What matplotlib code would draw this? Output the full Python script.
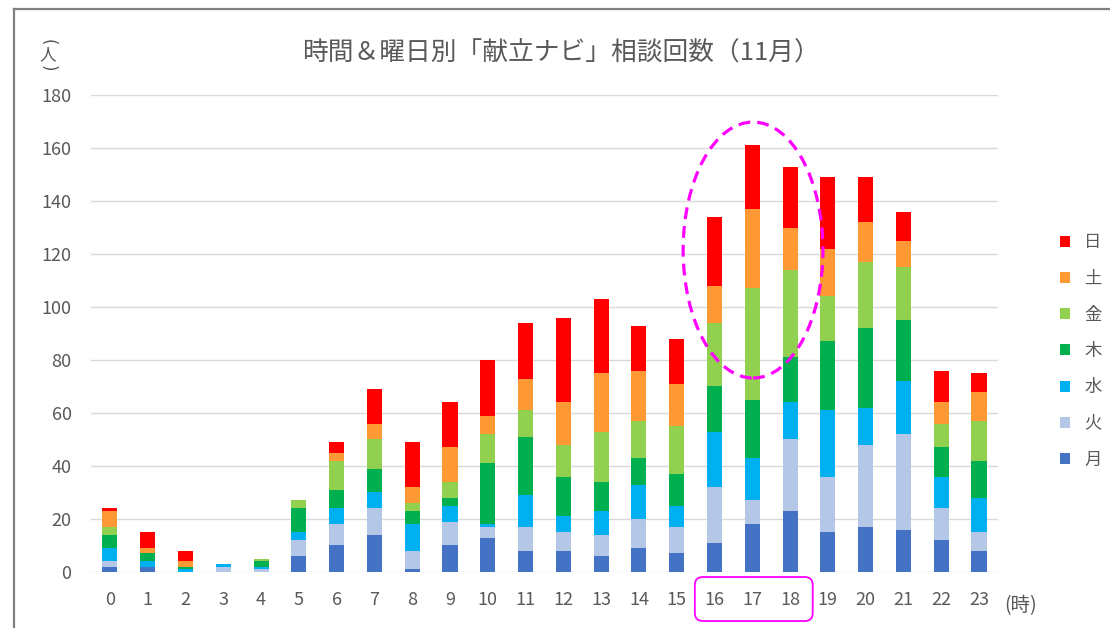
import matplotlib
matplotlib.use("Agg")
import matplotlib.pyplot as plt
import numpy as np
from matplotlib.patches import Ellipse, FancyBboxPatch
from matplotlib.lines import Line2D
from matplotlib.transforms import IdentityTransform

plt.rcParams['font.family'] = ['Noto Sans CJK JP', 'DejaVu Sans']

hours = list(range(24))
days = ["月", "火", "水", "木", "金", "土", "日"]
mon = [2, 2, 0, 0, 0, 6, 10, 14, 1, 10, 13, 8, 8, 6, 9, 7, 11, 18, 23, 15, 17, 16, 12, 8]
tue = [2, 0, 0, 2, 1, 6, 8, 10, 7, 9, 4, 9, 7, 8, 11, 10, 21, 9, 27, 21, 31, 36, 12, 7]
wed = [5, 2, 1, 1, 1, 3, 6, 6, 10, 6, 1, 12, 6, 9, 13, 8, 21, 16, 14, 25, 14, 20, 12, 13]
thu = [5, 3, 1, 0, 2, 9, 7, 9, 5, 3, 23, 22, 15, 11, 10, 12, 17, 22, 17, 26, 30, 23, 11, 14]
fri = [3, 0, 0, 0, 1, 3, 11, 11, 3, 6, 11, 10, 12, 19, 14, 18, 24, 42, 33, 17, 25, 20, 9, 15]
sat = [6, 2, 2, 0, 0, 0, 3, 6, 6, 13, 7, 12, 16, 22, 19, 16, 14, 30, 16, 18, 15, 10, 8, 11]
sun = [1, 6, 4, 0, 0, 0, 4, 13, 17, 17, 21, 21, 32, 28, 17, 17, 26, 24, 23, 27, 17, 11, 12, 7]
series = [mon, tue, wed, thu, fri, sat, sun]
colors = ["#4472C4", "#B4C7E7", "#00B0F0", "#00B050", "#92D050", "#FF9933", "#FF0000"]

text_gray = "#595959"
grid_gray = "#D9D9D9"

fig = plt.figure(figsize=(11.1, 6.28), dpi=100)
ax = fig.add_axes([0.082, 0.0892, 0.817, 0.7595])

bottom = np.zeros(len(hours))
bars = []
for vals, c, d in zip(series, colors, days):
    b = ax.bar(hours, vals, width=0.4, bottom=bottom, color=c, label=d, zorder=3)
    bars.append(b)
    bottom += np.array(vals)

ax.set_xlim(-0.5, 23.5)
ax.set_ylim(0, 180)
ax.set_yticks(range(0, 181, 20))
ax.set_xticks(hours)
ax.yaxis.grid(True, color=grid_gray, linewidth=1, zorder=0)
for s in ax.spines.values():
    s.set_visible(False)
ax.tick_params(length=0, colors=text_gray, labelsize=13)
ax.tick_params(axis="y", pad=14)
ax.tick_params(axis="x", pad=14)

fig.text(0.505, 0.914, "時間＆曜日別「献立ナビ」相談回数（11月）", ha="center", va="center",
         fontsize=18.5, color=text_gray)
# vertical unit label (人): brackets turned on their side
fig.text(0.043, 1 - 42 / 628, "(", ha="center", va="center", fontsize=12,
         rotation=-90, color=text_gray, family="DejaVu Sans")
fig.text(0.043, 1 - 55 / 628, "人", ha="center", va="center", fontsize=12, color=text_gray)
fig.text(0.043, 1 - 68 / 628, ")", ha="center", va="center", fontsize=12,
         rotation=-90, color=text_gray, family="DejaVu Sans")
fig.text(0.919, 0.036, "(時)", ha="center", va="center", fontsize=14, color=text_gray)

leg = fig.legend(handles=bars[::-1], labels=days[::-1], loc="center left",
                 bbox_to_anchor=(0.955, 0.441), frameon=False, fontsize=12.5,
                 handlelength=0.6, handleheight=0.6, handletextpad=0.8,
                 labelspacing=1.05, borderpad=0, borderaxespad=0)
for t in leg.get_texts():
    t.set_color(text_gray)

# dashed ellipse around 16-18 o'clock bars
ell = Ellipse((17.02, 121.5), 3.7, 96.6, fill=False, edgecolor="#FF00FF",
              linewidth=2.3, linestyle=(0, (3.7, 2.2)), zorder=5, clip_on=False)
ax.add_patch(ell)

# rounded box around the 16-18 tick labels
fig.canvas.draw()
x0 = ax.transData.transform((15.48, 0))[0]
x1 = ax.transData.transform((18.6, 0))[0]
box = FancyBboxPatch((x0, 7), x1 - x0, 44, boxstyle="round,pad=0,rounding_size=8",
                     fill=False, edgecolor="#FF00FF", linewidth=1.3,
                     transform=IdentityTransform())
fig.patches.append(box)

# outer frame of the pasted chart
fig.add_artist(Line2D([14 / 1110, 14 / 1110], [0, 1 - 9 / 628], color="#808080",
                      linewidth=1.6, transform=fig.transFigure))
fig.add_artist(Line2D([14 / 1110, 1], [1 - 9 / 628, 1 - 9 / 628], color="#808080",
                      linewidth=1.6, transform=fig.transFigure))

fig.savefig("out.png", dpi=100)
